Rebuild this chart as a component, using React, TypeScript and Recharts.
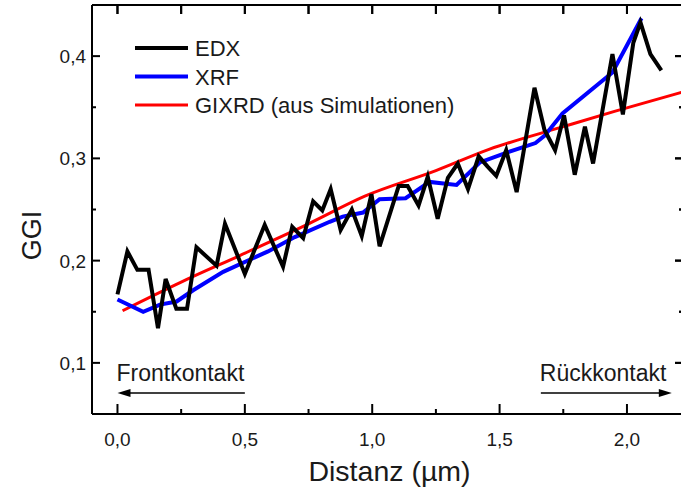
import { LineChart, Line, XAxis, YAxis, Legend, ReferenceLine } from 'recharts';

// EDX profile (black, noisy)
const edxDist = [
  0.0, 0.039, 0.078, 0.122, 0.159, 0.189, 0.231, 0.273, 0.31, 0.389, 0.422, 0.5,
  0.578, 0.65, 0.686, 0.729, 0.768, 0.804, 0.837, 0.876, 0.92, 0.959, 0.997, 1.029,
  1.104, 1.139, 1.182, 1.218, 1.257, 1.297, 1.336, 1.376, 1.418, 1.453, 1.487, 1.526,
  1.567, 1.637, 1.676, 1.718, 1.753, 1.795, 1.835, 1.867, 1.943, 1.984, 2.025, 2.053,
  2.092, 2.135,
];
const edxGgi = [
  0.167, 0.209, 0.191, 0.191, 0.134, 0.182, 0.153, 0.153, 0.213, 0.195, 0.236, 0.187,
  0.235, 0.194, 0.233, 0.222, 0.258, 0.249, 0.27, 0.23, 0.25, 0.224, 0.265, 0.214,
  0.273, 0.273, 0.254, 0.282, 0.241, 0.281, 0.295, 0.27, 0.302, 0.292, 0.283, 0.308,
  0.267, 0.369, 0.328, 0.308, 0.342, 0.284, 0.331, 0.295, 0.402, 0.343, 0.413, 0.433,
  0.402, 0.386,
];

// XRF profile (blue)
const xrfDist = [
  0.0, 0.101, 0.167, 0.232, 0.297, 0.415, 0.591, 0.696, 0.833, 0.884, 0.964, 1.029,
  1.131, 1.225, 1.331, 1.422, 1.52, 1.641, 1.676, 1.747, 1.943, 2.057,
];
const xrfGgi = [
  0.162, 0.15, 0.157, 0.16, 0.171, 0.189, 0.209, 0.223, 0.238, 0.243, 0.247, 0.26,
  0.261, 0.277, 0.274, 0.296, 0.305, 0.315, 0.322, 0.344, 0.384, 0.437,
];

// GIXRD (from simulations, red)
const gixrdDist = [0.02, 0.25, 0.48, 0.75, 0.971, 1.25, 1.461, 1.75, 1.951, 2.22];
const gixrdGgi = [0.151, 0.179, 0.205, 0.236, 0.263, 0.288, 0.309, 0.331, 0.346, 0.365];

const xDomain = [-0.1, 2.22];
const yDomain = [0.05, 0.45];
const xTicks = [0, 0.25, 0.5, 0.75, 1.0, 1.25, 1.5, 1.75, 2.0];
const yTicks = [0.1, 0.15, 0.2, 0.25, 0.3, 0.35, 0.4];

const annotations = [
  { text: 'Frontkontakt', from: 0.5, to: 0.0, y: 0.0706 },
  { text: 'Rückkontakt', from: 1.662, to: 2.176, y: 0.0706 },
];

const legendItems = [
  { name: 'EDX', color: '#000000', width: 4 },
  { name: 'XRF', color: '#0000ff', width: 4 },
  { name: 'GIXRD (aus Simulationen)', color: '#ff0000', width: 3 },
];

const zip = (xs: number[], ys: number[]) => xs.map((d, i) => ({ d, g: ys[i] }));
const edxData = zip(edxDist, edxGgi);
const xrfData = zip(xrfDist, xrfGgi);
const gixrdData = zip(gixrdDist, gixrdGgi);

// chart geometry (plot box = chart minus margins and axis sizes)
const W = 684, H = 490;
const M = { top: 5, right: 1, bottom: 0, left: 0 };
const Y_AXIS_W = 92, X_AXIS_H = 76;
const PLOT_X = M.left + Y_AXIS_W;
const PLOT_Y = M.top;
const PLOT_W = W - M.left - M.right - Y_AXIS_W;
const PLOT_H = H - M.top - M.bottom - X_AXIS_H;

const FONT = '"Liberation Sans", Arial, Helvetica, sans-serif';
const fmt = (v: number) => v.toFixed(1).replace('.', ',');
const onStep = (v: number, step: number) => Math.abs(v / step - Math.round(v / step)) < 1e-6;

// bottom tick + mirrored tick on the top edge
function BottomTick({ x, y, payload }: any) {
  const major = onStep(payload.value, 0.5);
  const top = y - PLOT_H;
  return (
    <g>
      <line x1={x} x2={x} y1={y} y2={y - (major ? 10 : 5)} stroke="#000" strokeWidth={2} />
      <line x1={x} x2={x} y1={top} y2={top + 9} stroke="#000" strokeWidth={2} />
      {major && (
        <text x={x} y={y + 32} textAnchor="middle" fontSize={19} fontFamily={FONT} fill="#1a1a1a">
          {fmt(payload.value)}
        </text>
      )}
    </g>
  );
}

// left tick + mirrored tick on the right edge
function LeftTick({ x, y, payload }: any) {
  const major = onStep(payload.value, 0.1);
  const len = major ? 8 : 4;
  const right = x + PLOT_W;
  return (
    <g>
      <line x1={x} x2={x + len} y1={y} y2={y} stroke="#000" strokeWidth={2} />
      <line x1={right} x2={right - len} y1={y} y2={y} stroke="#000" strokeWidth={2} />
      {major && (
        <text x={x - 6} y={y + 7} textAnchor="end" fontSize={19} fontFamily={FONT} fill="#1a1a1a">
          {fmt(payload.value)}
        </text>
      )}
    </g>
  );
}

function GgiLabel({ viewBox }: any) {
  const cx = viewBox.x + 32;
  const cy = viewBox.y + viewBox.height / 2 + 26;
  return (
    <text x={cx} y={cy} transform={`rotate(-90 ${cx} ${cy})`} textAnchor="middle"
      dominantBaseline="central" fontSize={27} fontFamily={FONT} fill="#1a1a1a">
      GGI
    </text>
  );
}

// x label, plus the top and right edges of the frame
function DistLabel({ viewBox }: any) {
  const { x, y, width } = viewBox;
  const top = y - PLOT_H;
  return (
    <g>
      <path d={`M${x},${top}H${x + width}V${y}`} fill="none" stroke="#000" strokeWidth={2} />
      <text x={x + width / 2 + 2} y={y + 67} textAnchor="middle"
        fontSize={28.5} fontFamily={FONT} fill="#1a1a1a">
        Distanz (µm)
      </text>
    </g>
  );
}

function Arrow({ x1, y1, x2, y2, text }: any) {
  const dir = x2 > x1 ? 1 : -1;
  const left = Math.min(x1, x2);
  return (
    <g>
      <line x1={x1} y1={y1} x2={x2 - dir * 10} y2={y2} stroke="#000" strokeWidth={1.5} />
      <polygon points={`${x2},${y2} ${x2 - dir * 13},${y2 - 4} ${x2 - dir * 13},${y2 + 4}`} fill="#000" />
      <text x={left - 1} y={y1 - 12} fontSize={23} fontFamily={FONT} fill="#1a1a1a">{text}</text>
    </g>
  );
}

function LegendBox() {
  return (
    <svg width={380} height={90}>
      {legendItems.map((it, i) => (
        <g key={it.name}>
          <line x1={5} x2={58} y1={18 + i * 28.5} y2={18 + i * 28.5} stroke={it.color} strokeWidth={it.width} />
          <text x={65} y={26 + i * 28.5} fontSize={22} fontFamily={FONT} fill="#1a1a1a">{it.name}</text>
        </g>
      ))}
    </svg>
  );
}

// top/right frame drawn above the chart so nothing can hide it
function FrameOverlay() {
  const sx = (v: number) => PLOT_X + ((v - xDomain[0]) / (xDomain[1] - xDomain[0])) * PLOT_W;
  const sy = (v: number) => PLOT_Y + ((yDomain[1] - v) / (yDomain[1] - yDomain[0])) * PLOT_H;
  const right = PLOT_X + PLOT_W;
  return (
    <svg width={W} height={H}
      style={{ position: 'absolute', left: 0, top: 0, zIndex: 10, pointerEvents: 'none' }}>
      <path d={`M${PLOT_X},${PLOT_Y}H${right}V${PLOT_Y + PLOT_H}`} fill="none" stroke="#000" strokeWidth={2} />
      {xTicks.map(t => (
        <line key={`x${t}`} x1={sx(t)} x2={sx(t)} y1={PLOT_Y} y2={PLOT_Y + 9} stroke="#000" strokeWidth={2} />
      ))}
      {yTicks.map(t => (
        <line key={`y${t}`} x1={right} x2={right - (onStep(t, 0.1) ? 8 : 4)} y1={sy(t)} y2={sy(t)}
          stroke="#000" strokeWidth={2} />
      ))}
    </svg>
  );
}

export default function App() {
  return (
    <div style={{ position: 'absolute', left: 0, top: 0, width: 681, height: 490, overflow: 'hidden', background: '#fff' }}>
      <LineChart width={W} height={H} margin={M}>
        <XAxis type="number" dataKey="d" domain={xDomain} ticks={xTicks} interval={0}
          allowDataOverflow tickSize={0} tickMargin={0} tickLine={false} height={X_AXIS_H}
          axisLine={{ stroke: '#000', strokeWidth: 2 }} tick={<BottomTick />} label={<DistLabel />} />
        <YAxis type="number" domain={yDomain} ticks={yTicks} interval={0} allowDataOverflow
          tickSize={0} tickMargin={0} tickLine={false} width={Y_AXIS_W}
          axisLine={{ stroke: '#000', strokeWidth: 2 }} tick={<LeftTick />} label={<GgiLabel />} />

        {annotations.map(a => (
          <ReferenceLine key={a.text}
            segment={[{ x: a.from, y: a.y }, { x: a.to, y: a.y }]}
            shape={(p: any) => <Arrow {...p} text={a.text} />} />
        ))}

        <Line data={gixrdData} dataKey="g" type="monotone" stroke="#ff0000"
          strokeWidth={3} dot={false} activeDot={false} isAnimationActive={false} />
        <Line data={xrfData} dataKey="g" type="linear" stroke="#0000ff"
          strokeWidth={4} dot={false} activeDot={false} isAnimationActive={false} />
        <Line data={edxData} dataKey="g" type="linear" stroke="#000000"
          strokeWidth={4} dot={false} activeDot={false} isAnimationActive={false} />

        <Legend layout="horizontal" verticalAlign="middle" align="center"
          wrapperStyle={{ left: 130, top: 30, width: 380, height: 90 }} content={() => <LegendBox />} />
      </LineChart>
      <FrameOverlay />
    </div>
  );
}
